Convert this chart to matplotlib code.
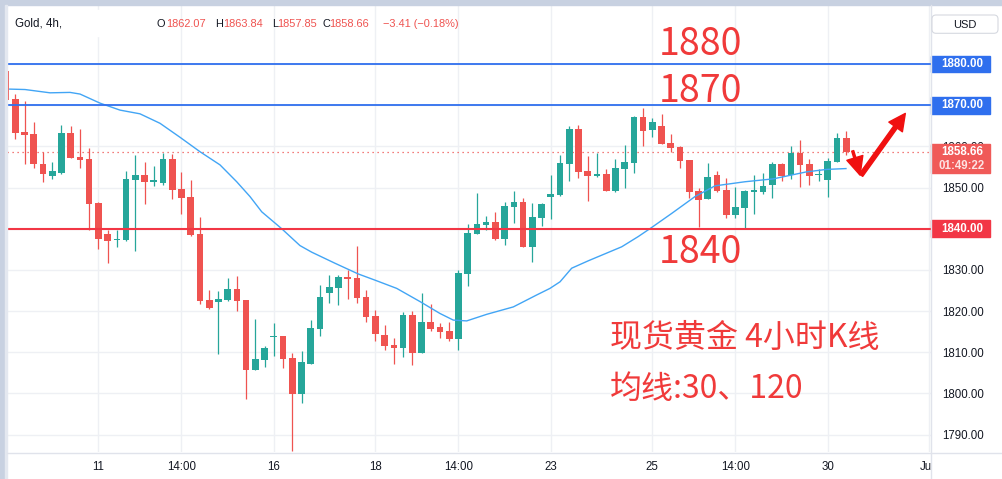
import matplotlib
matplotlib.use('Agg')
import matplotlib.pyplot as plt
import matplotlib.transforms as mtransforms
from matplotlib.patches import Rectangle, FancyBboxPatch

W, H = 1002, 479

# 4h candles (index 0 = leftmost, partly cut)
opens = [1878.3, 1871.5, 1863.5, 1863.0, 1855.7, 1852.9, 1853.6, 1863.2, 1857.4, 1856.9,
         1846.3, 1838.7, 1837.2, 1837.2, 1851.9, 1853.0, 1851.4, 1851.2, 1856.9, 1849.6,
         1847.7, 1838.7, 1822.7, 1822.3, 1822.8, 1825.3, 1822.7, 1805.7, 1808.2, 1813.7,
         1813.9, 1808.6, 1799.9, 1807.2, 1815.7, 1824.5, 1825.7, 1828.3, 1828.0, 1823.4,
         1818.8, 1814.2, 1811.7, 1810.9, 1819.0, 1809.9, 1817.3, 1816.1, 1815.1, 1813.3,
         1829.1, 1838.7, 1840.9, 1841.6, 1837.5, 1845.3, 1846.5, 1835.5, 1842.6, 1847.7,
         1848.3, 1855.8, 1864.2, 1854.0, 1852.9, 1853.3, 1849.2, 1854.6, 1856.0, 1867.1,
         1864.0, 1864.9, 1860.8, 1859.8, 1856.7, 1849.2, 1847.3, 1853.0, 1849.4, 1843.4,
         1845.1, 1849.0, 1849.0, 1850.7, 1855.7, 1853.0, 1858.4, 1855.7, 1853.0, 1851.9,
         1856.3, 1862.07]
highs = [1878.5, 1872.7, 1871.0, 1865.9, 1858.6, 1856.2, 1865.2, 1864.9, 1864.2, 1859.6,
         1846.6, 1839.8, 1839.8, 1854.0, 1857.9, 1856.2, 1855.2, 1858.5, 1858.1, 1853.8,
         1851.8, 1842.8, 1825.1, 1824.9, 1828.0, 1828.6, 1822.7, 1818.1, 1811.6, 1817.2,
         1813.9, 1809.8, 1810.4, 1817.7, 1826.4, 1828.7, 1828.7, 1830.0, 1835.8, 1825.1,
         1820.3, 1816.6, 1813.4, 1819.8, 1820.0, 1824.4, 1821.7, 1817.1, 1817.3, 1830.0,
         1841.1, 1848.7, 1843.1, 1844.0, 1846.5, 1849.1, 1847.4, 1846.2, 1846.2, 1853.0,
         1857.9, 1864.9, 1865.2, 1857.7, 1858.5, 1854.5, 1856.9, 1860.3, 1867.4, 1869.3,
         1866.9, 1867.9, 1863.0, 1860.2, 1856.7, 1850.0, 1856.0, 1854.0, 1852.3, 1850.2,
         1849.5, 1853.0, 1853.5, 1856.2, 1855.9, 1860.1, 1861.5, 1856.9, 1854.5, 1857.2,
         1863.2, 1863.84]
lows = [1871.0, 1861.9, 1855.8, 1854.8, 1851.3, 1852.1, 1853.4, 1857.2, 1854.8, 1839.6,
        1835.1, 1831.7, 1835.6, 1837.1, 1834.7, 1846.1, 1850.4, 1850.7, 1847.3, 1843.6,
        1838.2, 1821.8, 1820.5, 1809.6, 1822.5, 1820.1, 1798.7, 1805.7, 1806.5, 1809.1,
        1806.2, 1786.0, 1797.7, 1807.2, 1814.0, 1822.0, 1821.5, 1823.0, 1822.0, 1817.4,
        1812.6, 1810.6, 1807.2, 1808.9, 1807.0, 1809.9, 1815.1, 1813.4, 1812.7, 1810.6,
        1826.2, 1838.7, 1839.7, 1837.2, 1836.0, 1841.4, 1835.5, 1831.9, 1840.6, 1842.3,
        1848.0, 1851.7, 1852.4, 1846.8, 1852.6, 1849.2, 1849.0, 1850.0, 1853.6, 1860.2,
        1862.3, 1860.6, 1858.7, 1854.8, 1847.5, 1840.5, 1847.3, 1849.0, 1842.7, 1842.7,
        1840.0, 1843.6, 1848.5, 1847.5, 1851.7, 1852.1, 1850.2, 1850.7, 1851.7, 1847.8,
        1856.3, 1857.85]
closes = [1871.3, 1863.3, 1862.8, 1855.8, 1853.4, 1854.0, 1863.2, 1857.2, 1856.8, 1846.1,
          1837.6, 1837.1, 1837.6, 1852.1, 1853.0, 1851.4, 1851.8, 1856.9, 1849.5, 1847.5,
          1838.5, 1822.5, 1820.8, 1822.9, 1825.3, 1822.5, 1805.7, 1808.3, 1811.0, 1813.9,
          1808.4, 1799.9, 1807.6, 1815.9, 1823.4, 1825.8, 1828.3, 1827.9, 1823.2, 1818.6,
          1814.3, 1811.6, 1810.9, 1819.0, 1809.9, 1817.3, 1815.7, 1815.0, 1813.3, 1829.2,
          1838.9, 1841.1, 1841.6, 1837.5, 1845.5, 1846.5, 1835.5, 1842.8, 1846.0, 1848.4,
          1856.0, 1864.2, 1853.8, 1852.9, 1853.1, 1849.2, 1854.7, 1856.2, 1867.2, 1863.8,
          1865.9, 1860.6, 1859.7, 1856.5, 1849.0, 1847.0, 1852.6, 1849.2, 1843.4, 1845.3,
          1849.2, 1849.2, 1850.4, 1855.7, 1852.8, 1858.4, 1855.5, 1852.9, 1853.3, 1856.4,
          1862.0, 1858.66]

# moving average line
ma_x = [0.4, 2.05, 4.76, 6.93, 8.01, 10.17, 12.34, 14.5, 16.67, 18.84, 21.0, 23.17,
        24.98, 26.42, 27.69, 29.85, 31.83, 33.1, 35.63, 38.15, 39.96, 42.31, 44.83, 47.0,
        48.44, 49.89, 52.06, 54.94, 57.47, 58.91, 60.0, 61.26, 63.06, 66.68, 68.48, 69.93,
        72.09, 74.62, 76.78, 80.03, 83.1, 86.7, 88.88, 90.97]
ma_y = [1873.9, 1873.8, 1873.0, 1873.1, 1872.7, 1870.5, 1868.8, 1867.9, 1865.6, 1862.2,
        1858.7, 1855.5, 1851.4, 1847.8, 1844.1, 1840.0, 1835.9, 1834.3, 1831.6, 1829.0,
        1827.5, 1825.5, 1822.3, 1819.4, 1817.8, 1817.6, 1819.2, 1821.0, 1823.9, 1825.5,
        1827.1, 1830.4, 1832.2, 1835.6, 1838.1, 1840.3, 1843.7, 1847.8, 1850.4, 1851.4,
        1852.1, 1853.8, 1854.4, 1854.6]

tick_pos = [10, 19, 29, 40, 49, 59, 70, 79, 89, 100]
tick_lab = ['11', '14:00', '16', '18', '14:00', '23', '25', '14:00', '30', 'Jun']
price_ticks = [1790, 1800, 1810, 1820, 1830, 1840, 1850, 1860, 1870, 1880]
blue_levels = [1880, 1870]
red_level = 1840
last_price = 1858.66
countdown = '01:49:22'

UP = '#26a69a'
DOWN = '#ef5350'
BLUE = '#2f6fee'
RED = '#f23645'
TXT = '#131722'
ANN = '#f03a3a'
small = 'Liberation Sans'
cjk = ['Noto Sans CJK SC', 'DejaVu Sans']

fig = plt.figure(figsize=(W / 100, H / 100), dpi=100)
fig.patch.set_facecolor('white')

ax = fig.add_axes([7.3 / W, 27 / H, 923.7 / W, 447 / H])
ax.set_xlim(0.133, 100.18)
ax.set_ylim(1785.76, 1894.33)
for s in ax.spines.values():
    s.set_visible(False)

# candles
idx = list(range(len(opens)))
cols = [UP if c >= o else DOWN for o, c in zip(opens, closes)]
bottoms = [min(o, c) for o, c in zip(opens, closes)]
heights = [max(abs(c - o), 0.3) for o, c in zip(opens, closes)]
ax.vlines(idx, lows, highs, colors=cols, lw=0.9, zorder=3)
ax.bar(idx, heights, bottom=bottoms, width=0.72, color=cols, zorder=3.1)

ax.plot(ma_x, ma_y, color='#42a5f5', lw=1.0, zorder=4)
ax.axhline(last_price, color=DOWN, lw=0.9, ls=(0, (1, 3)), zorder=2)
for lv in blue_levels:
    ax.axhline(lv, color=BLUE, lw=1.3, zorder=5)
ax.axhline(red_level, color=RED, lw=1.5, zorder=5)

# axes ticks / grid
ax.set_xticks(tick_pos)
ax.set_xticklabels(tick_lab, fontfamily=small, fontsize=8.3, color=TXT)
ax.set_yticks(price_ticks)
ax.set_yticklabels(['' if p in blue_levels else f'{p:.2f}' for p in price_ticks],
                   fontfamily=small, fontsize=8.3, color=TXT)
ax.yaxis.tick_right()
ax.tick_params(axis='y', length=0, pad=7.7)
ax.tick_params(axis='x', length=0, pad=6.5)
ax.grid(True, color='#eef0f4', lw=1.0)
ax.set_axisbelow(True)

# price tags on the right scale
trans = mtransforms.blended_transform_factory(ax.transAxes, ax.transData)
bw = 59 / 923.7
tx = 1.0336


def tag(price, text, color):
    ax.add_patch(Rectangle((1.0, price - 2.03), bw, 4.06, transform=trans,
                           color=color, clip_on=False, zorder=6))
    ax.text(tx, price, text, transform=trans, ha='center', va='center', color='white',
            fontfamily=small, fontsize=8.3, fontweight='bold', clip_on=False, zorder=7)


for lv in blue_levels:
    tag(lv, f'{lv:.2f}', BLUE)
tag(red_level, f'{red_level:.2f}', RED)
ax.add_patch(Rectangle((1.0, last_price - 5.2), bw, 7.12, transform=trans,
                       color='#f05a58', clip_on=False, zorder=6))
ax.text(tx, last_price - 0.1, f'{last_price:.2f}', transform=trans, ha='center', va='center',
        color='white', fontfamily=small, fontsize=8.3, fontweight='bold', clip_on=False, zorder=7)
ax.text(tx, last_price - 3.4, countdown, transform=trans, ha='center', va='center',
        color='#fde3e3', fontfamily=small, fontsize=8.3, fontweight='bold', clip_on=False, zorder=7)

# annotations
ax.text(70.7, 1882.2, '1880', ha='left', va='baseline', color=ANN, fontsize=27, family=cjk, zorder=8)
ax.text(70.7, 1870.84, '1870', ha='left', va='baseline', color=ANN, fontsize=27, family=cjk, zorder=8)
ax.text(70.7, 1831.6, '1840', ha='left', va='baseline', color=ANN, fontsize=27, family=cjk, zorder=8)
ax.text(65.4, 1813.45, '现货黄金 4小时K线', ha='left', va='center', color=ANN, fontsize=23,
        family=cjk, zorder=8)
ax.text(65.4, 1801.06, '均线:30、120', ha='left', va='center', color=ANN, fontsize=23,
        family=cjk, zorder=8)
ax.annotate('', xy=(92.5, 1853.0), xytext=(91.7, 1858.9),
            arrowprops=dict(arrowstyle='simple,head_length=1.3,head_width=1.2,tail_width=0.15',
                            mutation_scale=10, color='#f01010', shrinkA=0, shrinkB=0), zorder=8)
ax.annotate('', xy=(97.4, 1868.0), xytext=(92.6, 1853.0),
            arrowprops=dict(arrowstyle='simple,head_length=1.2,head_width=1.2,tail_width=0.3',
                            mutation_scale=10, color='#f01010', shrinkA=0, shrinkB=0), zorder=8)

# overlay in pixel units for the frame
ov = fig.add_axes([0, 0, 1, 1])
ov.set_xlim(0, W)
ov.set_ylim(H, 0)
ov.axis('off')
ov.patch.set_alpha(0)
ov.add_patch(Rectangle((931.5, 452.5), 71, 27, color='white', zorder=1))
ov.add_patch(Rectangle((0, 0), W, 5, color='#c8d1e1', zorder=2))
ov.add_patch(Rectangle((0, 0), 5, H, color='#c8d1e1', zorder=2))
ov.add_patch(Rectangle((5, 5), 2.3, H, color='#e4e8f0', zorder=2))
ov.plot([931.5, 931.5], [5, H], color='#e0e3eb', lw=1, zorder=3)
ov.plot([7.3, W], [452.5, 452.5], color='#e0e3eb', lw=1, zorder=3)
ov.add_patch(FancyBboxPatch((932, 15), 66, 18.3, boxstyle='round,pad=0,rounding_size=4',
                            fc='white', ec='#d6d9e0', lw=0.8, zorder=3))
ov.text(965, 24.5, 'USD', ha='center', va='center', color=TXT, fontfamily=small, fontsize=8)

# legend line
ov.add_patch(Rectangle((7.3, 10), 128, 26, color='white', zorder=1))
ov.text(15, 23.5, 'Gold, 4h, ', ha='left', va='center', color=TXT, fontfamily=small, fontsize=8.3)
head = [(156.7, 'O', TXT), (165.7, '1862.07', DOWN), (215, 'H', TXT), (223, '1863.84', DOWN),
        (271.7, 'L', TXT), (277.5, '1857.85', DOWN), (322.7, 'C', TXT), (329, '1858.66', DOWN),
        (383, '\u22123.41 (\u22120.18%)', DOWN)]
for x, s, c in head:
    ov.text(x, 23.5, s, ha='left', va='center', color=c, fontfamily=small, fontsize=7.9)

fig.savefig('out.png', dpi=100)
